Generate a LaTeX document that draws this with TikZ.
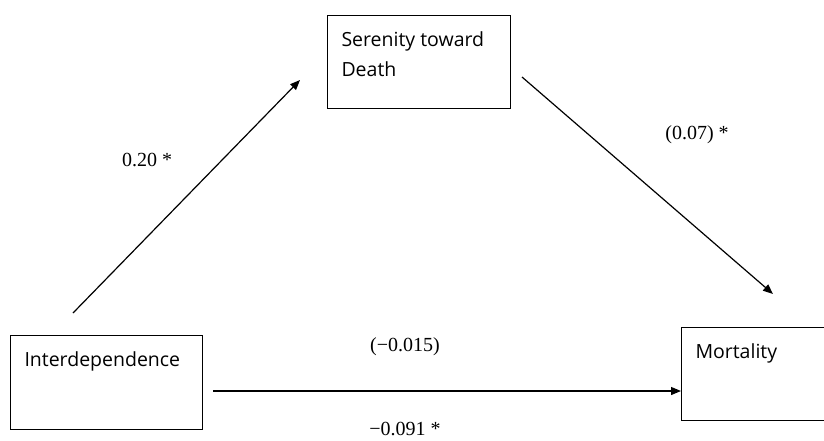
\documentclass[tikz,border=0pt]{standalone}
\usepackage{fontspec}
\setmainfont{Liberation Serif}
\newfontfamily\boxfont{Open Sans}
\usetikzlibrary{arrows.meta}

\newcommand{\boxtext}[3]{\parbox[t][#2][t]{#1}{#3}}

\begin{document}
\begin{tikzpicture}[x=1pt, y=-1pt,
        box/.style={rectangle, draw, line width=1pt, anchor=north west, inner xsep=14pt, inner ysep=16pt, font=\boxfont\fontsize{19.5}{30}\selectfont},
        effect/.style={-{Triangle[length=10pt, width=8pt]}, line width=1.2pt},
        coef/.style={font=\fontsize{20}{24}\selectfont}
    ]
        \useasboundingbox (0,0) rectangle (824,441);

        % Variables
        \node[box] (seren) at (327,15) {\boxtext{155pt}{61pt}{Serenity toward\\Death}};
        \node[box] (indep) at (10,335) {\boxtext{164pt}{62pt}{Interdependence}};
        \node[box] (mort) at (681,327) {\boxtext{150pt}{61pt}{Mortality}};

        % Path ends
        \coordinate (a1s) at (73,313);
        \coordinate (a1e) at (300,80);
        \coordinate (a2s) at (522,77);
        \coordinate (a2e) at (773,294);
        \coordinate (a3s) at (213,391);

        % Paths
        \draw[effect] (a1s) -- (a1e);
        \draw[effect] (a2s) -- (a2e);
        \draw[effect] (a3s) -- (mort.west |- a3s);

        % Coefficients
        \node[coef] (b1) at (147,160) {0.20 *};
        \node[coef] (b2) at (697,135) {(0.07) *};
        \node[coef] (b3) at (405,347) {(−0.015)};
        \node[coef] (b4) at (405,429) {−0.091 *};
    \end{tikzpicture}
\end{document}
